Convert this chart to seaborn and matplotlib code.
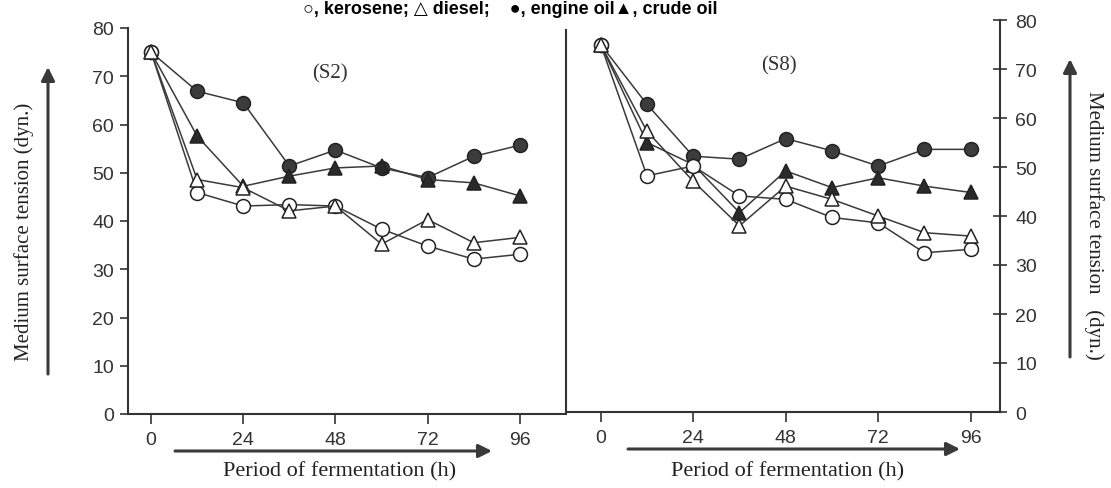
import pandas as pd
import seaborn as sns
import matplotlib.pyplot as plt

hours = [0, 12, 24, 36, 48, 60, 72, 84, 96]
xticks = [0, 24, 48, 72, 96]
yticks = [0, 10, 20, 30, 40, 50, 60, 70, 80]

# S2 strain
s2_kerosene = [75, 45.9, 43.1, 43.4, 43.1, 38.3, 34.8, 32.1, 33.1]
s2_diesel = [75, 48.6, 46.9, 42.1, 43.1, 35.2, 40.3, 35.5, 36.6]
s2_engine = [75, 66.9, 64.5, 51.4, 54.7, 51.0, 49.0, 53.4, 55.7]
s2_crude = [75, 57.6, 47.2, 49.3, 51.0, 51.4, 48.6, 47.9, 45.2]

# S8 strain
s8_kerosene = [75, 48.2, 50.2, 44.1, 43.4, 39.7, 38.6, 32.5, 33.2]
s8_diesel = [75, 57.3, 47.1, 38.0, 46.1, 43.4, 40.0, 36.6, 35.9]
s8_engine = [75, 62.8, 52.2, 51.6, 55.8, 53.3, 50.2, 53.6, 53.6]
s8_crude = [75, 55.0, 50.5, 40.7, 49.2, 45.8, 47.8, 46.1, 44.8]

ink = "#3a3a3a"
# marker, face colour
styles = {"engine": ("o", "#3c3c3c"), "crude": ("^", "#2a2a2a"),
          "kerosene": ("o", "white"), "diesel": ("^", "white")}

sns.set_style("white")
plt.rcParams["font.family"] = ["Liberation Sans", "DejaVu Sans"]

fig = plt.figure(figsize=(11.11, 4.89), dpi=100)
ax1 = fig.add_axes([128 / 1111, 1 - 415 / 489, 438 / 1111, 386 / 489])
ax2 = fig.add_axes([566 / 1111, 1 - 413 / 489, 434 / 1111, 392 / 489])

panels = [(ax1, "(S2)", 0.46, {"engine": s2_engine, "crude": s2_crude, "kerosene": s2_kerosene, "diesel": s2_diesel}),
          (ax2, "(S8)", 0.49, {"engine": s8_engine, "crude": s8_crude, "kerosene": s8_kerosene, "diesel": s8_diesel})]

for ax, name, lx, series in panels:
    for key, vals in series.items():
        df = pd.DataFrame({"h": hours, "st": vals})
        m, fc = styles[key]
        sns.lineplot(data=df, x="h", y="st", ax=ax, color=ink, lw=1.1,
                     marker=m, markersize=10, markerfacecolor=fc,
                     markeredgecolor="#222222", markeredgewidth=1.1)
    ax.set_ylim(0, 80)
    ax.set_xticks(xticks)
    ax.set_yticks(yticks)
    ax.set_xlabel("")
    ax.set_ylabel("")
    ax.text(lx, 0.885, name, transform=ax.transAxes, ha="center", va="center",
            fontsize=15, family="Liberation Serif", color="#333333")
    for s in ax.spines.values():
        s.set_color("#333333")
        s.set_linewidth(1.5)
    ax.spines["top"].set_visible(False)
    ax.tick_params(axis="x", direction="out", length=7, width=1.2, colors="#333333",
                   labelsize=14, pad=5, bottom=True)

ax1.set_xlim(-6, 108)
ax2.set_xlim(-9, 103.6)

ax1.spines["right"].set_visible(False)
ax1.tick_params(axis="y", direction="out", length=6, width=1.2, colors="#333333",
                labelsize=14, left=True, pad=4)

ax2.spines["left"].set_bounds(0, 78)
ax2.yaxis.tick_right()
ax2.tick_params(axis="y", direction="inout", length=10, width=1.2, colors="#333333",
                labelsize=14, right=True, left=False, pad=6)

# legend line along the top edge
fig.text(510 / 1111, 1 - 1 / 489, "○, kerosene; △ diesel;    ●, engine oil▲, crude oil",
         ha="center", va="top", fontsize=13, fontweight="bold", color="black")

serif = "Liberation Serif"
arrow = dict(arrowstyle="-|>", lw=2.2, color=ink, mutation_scale=20, shrinkA=0, shrinkB=0)

# axis titles with arrows
for x0, x1, y, tx in [(175, 492, 452, 340), (628, 960, 450, 788)]:
    fig.add_artist(plt.Annotation("", xy=(x1 / 1111, 1 - y / 489), xytext=(x0 / 1111, 1 - y / 489),
                                  xycoords="figure fraction", arrowprops=arrow))
    fig.text(tx / 1111, 1 - 472 / 489, "Period of fermentation (h)", ha="center", va="center",
             fontsize=16, family=serif, color="#222222")

fig.add_artist(plt.Annotation("", xy=(48 / 1111, 1 - 68 / 489), xytext=(48 / 1111, 1 - 375 / 489),
                              xycoords="figure fraction", arrowprops=arrow))
fig.text(24 / 1111, 1 - 232 / 489, "Medium surface tension (dyn.)", rotation=90, ha="center",
         va="center", fontsize=15, family=serif, color="#222222")

fig.add_artist(plt.Annotation("", xy=(1070 / 1111, 1 - 60 / 489), xytext=(1070 / 1111, 1 - 358 / 489),
                              xycoords="figure fraction", arrowprops=arrow))
fig.text(1094 / 1111, 1 - 225 / 489, "Medium surface tension   (dyn.)", rotation=270, ha="center",
         va="center", fontsize=15, family=serif, color="#222222")

fig.savefig("out.png", dpi=100)
